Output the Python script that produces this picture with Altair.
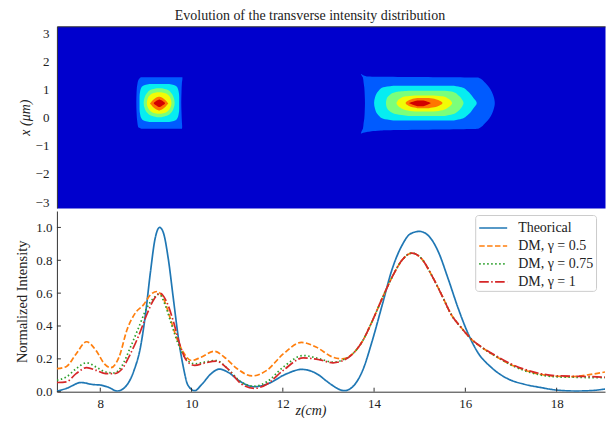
import altair as alt
import pandas as pd

FONT = "Liberation Serif"
TXT = "#222222"
AX = "#333333"

Z_DOMAIN = [7.05, 19.06]
X_DOMAIN = [-3.21, 3.25]
I_DOMAIN = [0.0, 1.1]
W, H_TOP, H_BOT = 549, 182, 181

# ---------------- line data (bottom panel) ----------------
theo_z = [7.05, 7.26, 7.58, 7.83, 8.01, 8.19, 8.37, 8.55, 8.74, 8.88, 8.99, 9.10, 9.20, 9.30,
          9.38, 9.49, 9.60, 9.71, 9.82, 9.92, 10.07, 10.21, 10.43, 10.61, 10.79, 11.08, 11.37,
          11.65, 12.09, 12.41, 12.74, 12.98, 13.10, 13.35, 13.53, 13.75, 13.96, 14.18, 14.40,
          14.61, 14.79, 14.99, 15.19, 15.41, 15.62, 15.84, 16.05, 16.27, 16.56, 16.92, 17.28,
          17.64, 18.0, 18.43, 18.72, 19.06]
theo_v = [0.004, 0.02, 0.056, 0.044, 0.04, 0.026, 0.004, 0.03, 0.13, 0.27, 0.47, 0.73, 0.93, 1.0,
          0.97, 0.81, 0.57, 0.33, 0.15, 0.04, 0.006, 0.04, 0.11, 0.138, 0.12, 0.06, 0.03,
          0.046, 0.11, 0.136, 0.11, 0.06, 0.036, 0.006, 0.03, 0.13, 0.31, 0.53, 0.75,
          0.89, 0.96, 0.976, 0.95, 0.85, 0.69, 0.51, 0.36, 0.24, 0.15, 0.08, 0.046,
          0.026, 0.01, 0.004, 0.006, 0.016]

g05_z = [7.05, 7.26, 7.47, 7.70, 7.91, 8.09, 8.23, 8.41, 8.59, 8.77, 8.95, 9.10, 9.24, 9.38,
         9.53, 9.67, 9.82, 10.0, 10.21, 10.5, 10.72, 11.0, 11.33, 11.65, 12.01, 12.41, 12.74,
         13.1, 13.3, 13.53, 13.75, 13.96, 14.18, 14.40, 14.61, 14.83, 15.04, 15.26, 15.48,
         15.69, 15.91, 16.13, 16.41, 16.70, 16.99, 17.28, 17.64, 18.0, 18.36, 18.72, 19.06]
g05_v = [0.14, 0.154, 0.23, 0.304, 0.25, 0.17, 0.146, 0.21, 0.38, 0.48, 0.53, 0.59, 0.61, 0.57,
         0.45, 0.33, 0.24, 0.19, 0.21, 0.246, 0.21, 0.14, 0.096, 0.13, 0.23, 0.30, 0.27,
         0.21, 0.2, 0.23, 0.31, 0.43, 0.57, 0.70, 0.80, 0.844, 0.81, 0.71, 0.59,
         0.47, 0.39, 0.32, 0.26, 0.21, 0.166, 0.134, 0.106, 0.094, 0.092, 0.104, 0.12]

g075_z = [7.05, 7.26, 7.47, 7.70, 7.91, 8.12, 8.3, 8.48, 8.66, 8.84, 9.02, 9.17, 9.29, 9.42,
          9.56, 9.71, 9.85, 10.07, 10.28, 10.54, 10.79, 11.08, 11.37, 11.65, 12.01, 12.45,
          12.81, 13.1, 13.32, 13.53, 13.75, 13.96, 14.18, 14.40, 14.61, 14.83, 15.04, 15.26,
          15.48, 15.69, 15.91, 16.13, 16.41, 16.70, 16.99, 17.28, 17.64, 18.0, 18.36, 18.72, 19.06]
g075_v = [0.07, 0.09, 0.14, 0.176, 0.15, 0.12, 0.114, 0.16, 0.27, 0.39, 0.51, 0.57, 0.594, 0.53,
          0.41, 0.29, 0.21, 0.17, 0.18, 0.19, 0.14, 0.06, 0.034, 0.06, 0.15, 0.22,
          0.2, 0.18, 0.194, 0.23, 0.31, 0.43, 0.57, 0.70, 0.80, 0.844, 0.81, 0.71,
          0.59, 0.47, 0.39, 0.32, 0.26, 0.21, 0.164, 0.13, 0.102, 0.09, 0.088, 0.086, 0.086]

g1_z = [7.05, 7.26, 7.47, 7.70, 7.91, 8.12, 8.3, 8.48, 8.66, 8.84, 9.02, 9.17, 9.31, 9.45,
        9.60, 9.74, 9.89, 10.07, 10.28, 10.54, 10.79, 11.08, 11.37, 11.65, 12.01, 12.45,
        12.81, 13.1, 13.32, 13.53, 13.75, 13.96, 14.18, 14.40, 14.61, 14.83, 15.04, 15.26,
        15.48, 15.69, 15.91, 16.13, 16.41, 16.70, 16.99, 17.28, 17.64, 18.0, 18.36, 18.72, 19.06]
g1_v = [0.056, 0.06, 0.11, 0.146, 0.13, 0.11, 0.11, 0.14, 0.23, 0.34, 0.47, 0.56, 0.60, 0.55,
        0.43, 0.29, 0.19, 0.16, 0.174, 0.186, 0.14, 0.05, 0.02, 0.046, 0.13, 0.206,
        0.194, 0.176, 0.19, 0.23, 0.31, 0.43, 0.57, 0.70, 0.80, 0.844, 0.81, 0.71,
        0.59, 0.47, 0.39, 0.32, 0.262, 0.214, 0.17, 0.138, 0.11, 0.097, 0.094, 0.092, 0.088]

series_labels = ["Theorical", "DM, γ = 0.5", "DM, γ = 0.75", "DM, γ = 1"]
series_colors = ["#1f77b4", "#ff7f0e", "#2ca02c", "#d62728"]
series_dashes = [[1, 0], [5.5, 2.4], [1.5, 2.5], [9.6, 2.4, 1.5, 2.4]]
series_data = [(theo_z, theo_v), (g05_z, g05_v), (g075_z, g075_v), (g1_z, g1_v)]

x_ticks = [8, 10, 12, 14, 16, 18]
i_ticks = [0.0, 0.2, 0.4, 0.6, 0.8, 1.0]
x_pos_ticks = [-3, -2, -1, 0, 1, 2, 3]

# ---------------- contour outlines (top panel): (x, z_left, z_right) ----------------
near_l1 = [(-0.39, 8.90, 9.79), (-0.33, 8.83, 9.795), (-0.2, 8.815, 9.79), (0.2, 8.795, 9.78),
           (0.55, 8.79, 9.775), (0.9, 8.795, 9.78), (1.26, 8.82, 9.79), (1.38, 8.85, 9.80),
           (1.44, 8.89, 9.80)]
near_l2 = [(-0.15, 9.08, 9.51), (-0.116, 8.98, 9.61), (-0.049, 8.91, 9.68), (0.12, 8.873, 9.717),
           (0.32, 8.86, 9.73), (0.525, 8.86, 9.73), (0.73, 8.86, 9.73), (0.93, 8.873, 9.717),
           (1.10, 8.91, 9.68), (1.166, 8.98, 9.61), (1.20, 9.08, 9.51)]
near_l3 = [(0.02, 9.24, 9.34), (0.07, 9.12, 9.46), (0.17, 9.035, 9.545), (0.33, 8.975, 9.605),
           (0.535, 8.95, 9.63), (0.74, 8.975, 9.605), (0.90, 9.035, 9.545), (1.0, 9.12, 9.46),
           (1.05, 9.24, 9.34)]
near_l4 = [(0.14, 9.25, 9.33), (0.18, 9.155, 9.425), (0.255, 9.088, 9.493), (0.37, 9.04, 9.54),
           (0.525, 9.02, 9.56), (0.68, 9.04, 9.54), (0.795, 9.088, 9.493), (0.87, 9.155, 9.425),
           (0.91, 9.25, 9.33)]
near_l5 = [(0.26, 9.28, 9.30), (0.285, 9.24, 9.34), (0.335, 9.19, 9.39), (0.407, 9.14, 9.44),
           (0.468, 9.11, 9.47), (0.505, 9.09, 9.49), (0.542, 9.11, 9.47), (0.603, 9.14, 9.44),
           (0.677, 9.19, 9.39), (0.726, 9.24, 9.34), (0.75, 9.28, 9.30)]
near_l6 = [(0.38, 9.285, 9.305), (0.41, 9.25, 9.34), (0.45, 9.21, 9.38), (0.49, 9.18, 9.41),
           (0.515, 9.17, 9.42), (0.54, 9.18, 9.41), (0.58, 9.21, 9.38), (0.62, 9.25, 9.34),
           (0.65, 9.285, 9.305)]

far_l1 = [(-0.565, 13.71, 13.72), (-0.505, 13.72, 13.84), (-0.45, 13.735, 14.15),
          (-0.39, 13.755, 16.28), (-0.2, 13.77, 16.43), (-0.035, 13.785, 16.52),
          (0.25, 13.795, 16.61), (0.52, 13.80, 16.645), (0.8, 13.795, 16.61),
          (1.08, 13.785, 16.52), (1.25, 13.77, 16.43), (1.43, 13.755, 16.28),
          (1.47, 13.74, 13.84), (1.553, 13.71, 13.72)]
far_l2 = [(-0.10, 14.42, 15.75), (-0.04, 14.2, 15.92), (0.08, 14.1, 16.04), (0.32, 14.02, 16.17),
          (0.52, 14.0, 16.25), (0.72, 14.02, 16.17), (0.96, 14.1, 16.04), (1.08, 14.2, 15.92),
          (1.14, 14.42, 15.75)]
far_l3 = [(0.06, 14.75, 15.55), (0.12, 14.5, 15.72), (0.25, 14.33, 15.85), (0.4, 14.27, 15.93),
          (0.52, 14.26, 15.96), (0.64, 14.27, 15.93), (0.79, 14.33, 15.85), (0.92, 14.5, 15.72),
          (0.96, 14.75, 15.55)]
far_l4 = [(0.22, 14.9, 15.3), (0.27, 14.7, 15.5), (0.36, 14.57, 15.62), (0.45, 14.51, 15.69),
          (0.52, 14.49, 15.71), (0.59, 14.51, 15.69), (0.68, 14.57, 15.62), (0.76, 14.7, 15.5),
          (0.79, 14.9, 15.3)]
far_l5 = [(0.34, 14.95, 15.2), (0.38, 14.82, 15.35), (0.44, 14.74, 15.44), (0.52, 14.69, 15.50),
          (0.60, 14.74, 15.44), (0.66, 14.82, 15.35), (0.70, 14.95, 15.2)]
far_l6 = [(0.41, 14.95, 15.08), (0.46, 14.85, 15.17), (0.52, 14.77, 15.24), (0.57, 14.85, 15.17),
          (0.61, 14.95, 15.08)]

background_color = "#0000CD"
band_colors = ["#005BFF", "#06EDF1", "#7BFF7B", "#F1FC06", "#FF7600", "#D20000"]
near_shapes = [near_l1, near_l2, near_l3, near_l4, near_l5, near_l6]
far_shapes = [far_l1, far_l2, far_l3, far_l4, far_l5, far_l6]

# ---------------- build top panel ----------------
zscale = alt.Scale(domain=Z_DOMAIN, nice=False, zero=False)
xscale = alt.Scale(domain=X_DOMAIN, nice=False, zero=False)
iscale = alt.Scale(domain=I_DOMAIN, nice=False, zero=False)

top_x_axis = alt.Axis(orient="top", labels=False, ticks=False, title=None, domain=True,
                      domainColor=AX, grid=False)
top_y_axis = alt.Axis(values=x_pos_ticks, format="d", ticks=False, labelPadding=8,
                      labelFont=FONT, labelFontSize=13, labelColor=TXT, domainColor=AX,
                      title="x (μm)", titleFont=FONT, titleFontSize=14, titleFontStyle="italic",
                      titleFontWeight="normal", titleColor=TXT, titleX=-31, titleY=H_TOP / 2,
                      titleBaseline="middle", grid=False)

top_layers = []
for lvl in range(6):
    rows = []
    for blob, shapes in (("near", near_shapes), ("far", far_shapes)):
        for (xv, zl, zr) in shapes[lvl]:
            rows.append({"blob": blob, "x": xv, "zl": zl, "zr": zr})
    df = pd.DataFrame(rows)
    layer = alt.Chart(df).mark_area(orient="horizontal", color=band_colors[lvl],
                                    interpolate="monotone", clip=True).encode(
        y=alt.Y("x:Q", scale=xscale, axis=top_y_axis),
        x=alt.X("zl:Q", scale=zscale, axis=top_x_axis),
        x2="zr:Q",
        detail="blob:N",
    )
    top_layers.append(layer)

top = alt.layer(*top_layers).properties(
    width=W, height=H_TOP,
    view=alt.ViewBackground(fill=background_color, stroke="transparent"),
)

# ---------------- build bottom panel ----------------
color_scale = alt.Scale(domain=series_labels, range=series_colors)
dash_scale = alt.Scale(domain=series_labels, range=series_dashes)

legend = alt.Legend(title=None, orient="none", legendX=W - 130, legendY=H_TOP + 7,
                    fillColor="rgba(255,255,255,0.85)", strokeColor="#cccccc",
                    cornerRadius=3, padding=2, symbolType="M-1.4,0H1.4", symbolSize=400,
                    symbolOffset=5, symbolStrokeWidth=1.6, labelFont=FONT, labelFontSize=14,
                    labelColor=TXT, labelOffset=14, rowPadding=-1)

bot_x_axis = alt.Axis(values=x_ticks, format="d", ticks=False, labelPadding=6,
                      labelFont=FONT, labelFontSize=13, labelColor=TXT, domainColor=AX,
                      title="z(cm)", titleFont=FONT, titleFontSize=14, titleFontStyle="italic",
                      titleFontWeight="normal", titleColor=TXT, titleX=254, titleY=19,
                      titleBaseline="middle", grid=False)
bot_y_axis = alt.Axis(values=i_ticks, format=".1f", ticks=False, labelPadding=5,
                      labelFont=FONT, labelFontSize=13, labelColor=TXT, domainColor=AX,
                      title="Normalized Intensity", titleFont=FONT, titleFontSize=14.5,
                      titleFontWeight="normal", titleColor=TXT, titleX=-34, titleY=H_BOT / 2,
                      titleBaseline="middle", grid=False)

line_layers = []
for lab, (zs, vs) in zip(series_labels, series_data):
    df = pd.DataFrame({"z": zs, "v": vs, "series": lab})
    line_layers.append(
        alt.Chart(df).mark_line(strokeWidth=1.7, interpolate="monotone", clip=True).encode(
            x=alt.X("z:Q", scale=zscale, axis=bot_x_axis),
            y=alt.Y("v:Q", scale=iscale, axis=bot_y_axis),
            color=alt.Color("series:N", scale=color_scale, legend=legend),
            strokeDash=alt.StrokeDash("series:N", scale=dash_scale, legend=legend),
        )
    )

xt = alt.Chart(pd.DataFrame({"z": x_ticks})).mark_rule(color=AX, strokeWidth=1).encode(
    x=alt.X("z:Q", scale=zscale, axis=bot_x_axis),
    y=alt.value(H_BOT), y2=alt.value(H_BOT - 4),
)
yt = alt.Chart(pd.DataFrame({"v": i_ticks})).mark_rule(color=AX, strokeWidth=1).encode(
    y=alt.Y("v:Q", scale=iscale, axis=bot_y_axis),
    x=alt.value(0), x2=alt.value(4),
)

bottom = alt.layer(*line_layers, xt, yt).properties(width=W, height=H_BOT)

chart = alt.vconcat(top, bottom, spacing=0).properties(
    title=alt.TitleParams("Evolution of the transverse intensity distribution", font=FONT,
                          fontSize=14, fontWeight="normal", color=TXT, anchor="middle",
                          offset=3),
    padding={"left": 6, "top": 0, "right": 0, "bottom": 0},
).configure_view(stroke="transparent")

chart.save("out.html", embed_options={"renderer": "svg", "actions": False})
